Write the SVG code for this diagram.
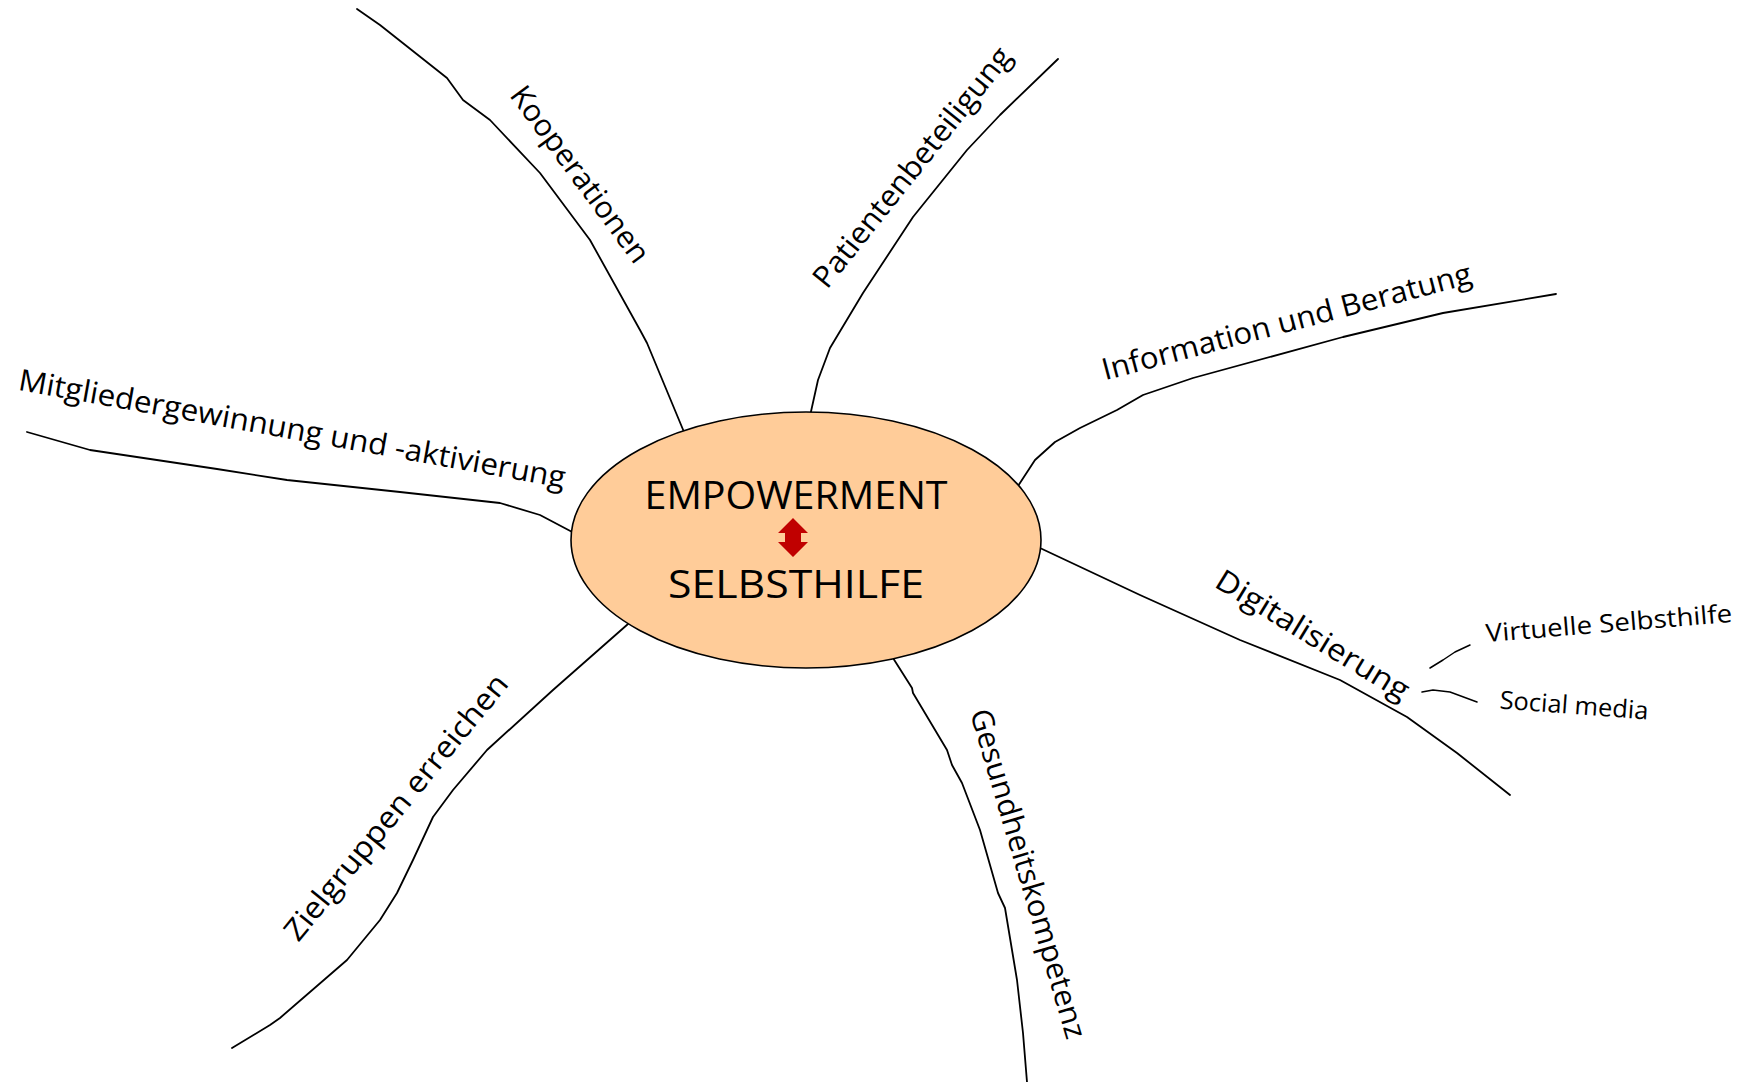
<svg xmlns="http://www.w3.org/2000/svg" width="1756" height="1082" viewBox="0 0 1756 1082">
<style>
.bg{fill:#ffffff}
.conn path{fill:none;stroke:#000000;stroke-width:1.8;stroke-linejoin:round;stroke-linecap:round}
.conn path.sub{stroke-width:1.5}
.lbl{font-family:"Open Sans","DejaVu Sans",sans-serif;font-size:30px;fill:#000000;text-anchor:middle}
.lbl.small{font-size:25px}
.core{fill:#FFCC99;stroke:#000000;stroke-width:1.6}
.title{font-family:"Open Sans","DejaVu Sans",sans-serif;font-size:39px;fill:#000000;text-anchor:middle}
.arrow{fill:#C00000}
</style>
<rect class="bg" x="0" y="0" width="1756" height="1082"/>
<g id="connectors" class="conn">
<path d="M27,432 L90,450 L217,469 L287,480 L400,492 L500,503 L540,515 L576,534"/>
<path d="M357,9 L380,25 L447,78 L463,100 L490,120 L540,173 L590,240 L640,330 L647,343 L684,432"/>
<path d="M1058,59 L1000,115 L967,150 L913,217 L863,293 L830,348 L818,380 L810,416"/>
<path d="M1556,294 L1443,313 L1343,337 L1193,378 L1143,395 L1117,410 L1080,428 L1055,442 L1035,460 L1018,486"/>
<path d="M1040,548 L1140,595 L1240,640 L1340,680 L1407,717 L1457,753 L1510,795"/>
<path d="M628,624 L553,690 L487,750 L453,790 L433,817 L413,860 L397,893 L380,920 L347,960 L280,1018 L270,1025 L232,1048"/>
<path d="M893,658 L912,688 L913,693 L947,750 L952,765 L962,783 L980,830 L998,893 L1005,908 L1017,980 L1023,1033 L1027,1082"/>
<path class="sub" d="M1430,668 L1443,660 L1455,652 L1470,645"/>
<path class="sub" d="M1422,692 L1433,690 L1450,692 L1477,702"/>
</g>
<g id="node-center">
<ellipse class="core" cx="806" cy="540" rx="235" ry="128"/>
<text class="title" x="796" y="509" textLength="303" lengthAdjust="spacingAndGlyphs">EMPOWERMENT</text>
<polygon class="arrow" points="793,518 808,533 801,533 801,542 808,542 793,557 778,542 785,542 785,533 778,533"/>
<text class="title" x="796" y="598" textLength="256" lengthAdjust="spacingAndGlyphs">SELBSTHILFE</text>
</g>
<g id="node-mitglieder">
<text class="lbl" transform="translate(292,430) rotate(10.2)" x="0" y="9" textLength="555" lengthAdjust="spacingAndGlyphs">Mitgliedergewinnung und -aktivierung</text>
</g>
<g id="node-kooperationen">
<text class="lbl" transform="translate(579,175) rotate(53.5)" x="0" y="9" textLength="212" lengthAdjust="spacingAndGlyphs">Kooperationen</text>
</g>
<g id="node-patienten">
<text class="lbl" transform="translate(913,168) rotate(-51.4)" x="0" y="9" textLength="298" lengthAdjust="spacingAndGlyphs">Patientenbeteiligung</text>
</g>
<g id="node-information">
<text class="lbl" transform="translate(1287,323) rotate(-14.8)" x="0" y="9" textLength="381" lengthAdjust="spacingAndGlyphs">Information und Beratung</text>
</g>
<g id="node-digitalisierung">
<text class="lbl" transform="translate(1312,636) rotate(31.5)" x="0" y="9" textLength="221" lengthAdjust="spacingAndGlyphs">Digitalisierung</text>
</g>
<g id="node-virtuelle">
<text class="lbl small" transform="translate(1609,625) rotate(-4.7)" x="0" y="7" textLength="247" lengthAdjust="spacingAndGlyphs">Virtuelle Selbsthilfe</text>
</g>
<g id="node-social">
<text class="lbl small" transform="translate(1574,707) rotate(4.2)" x="0" y="7" textLength="149" lengthAdjust="spacingAndGlyphs">Social media</text>
</g>
<g id="node-zielgruppen">
<text class="lbl" transform="translate(397,808) rotate(-50.7)" x="0" y="9" textLength="334" lengthAdjust="spacingAndGlyphs">Zielgruppen erreichen</text>
</g>
<g id="node-gesundheit">
<text class="lbl" transform="translate(1027,874) rotate(73.5)" x="0" y="9" textLength="342" lengthAdjust="spacingAndGlyphs">Gesundheitskompetenz</text>
</g>
</svg>
